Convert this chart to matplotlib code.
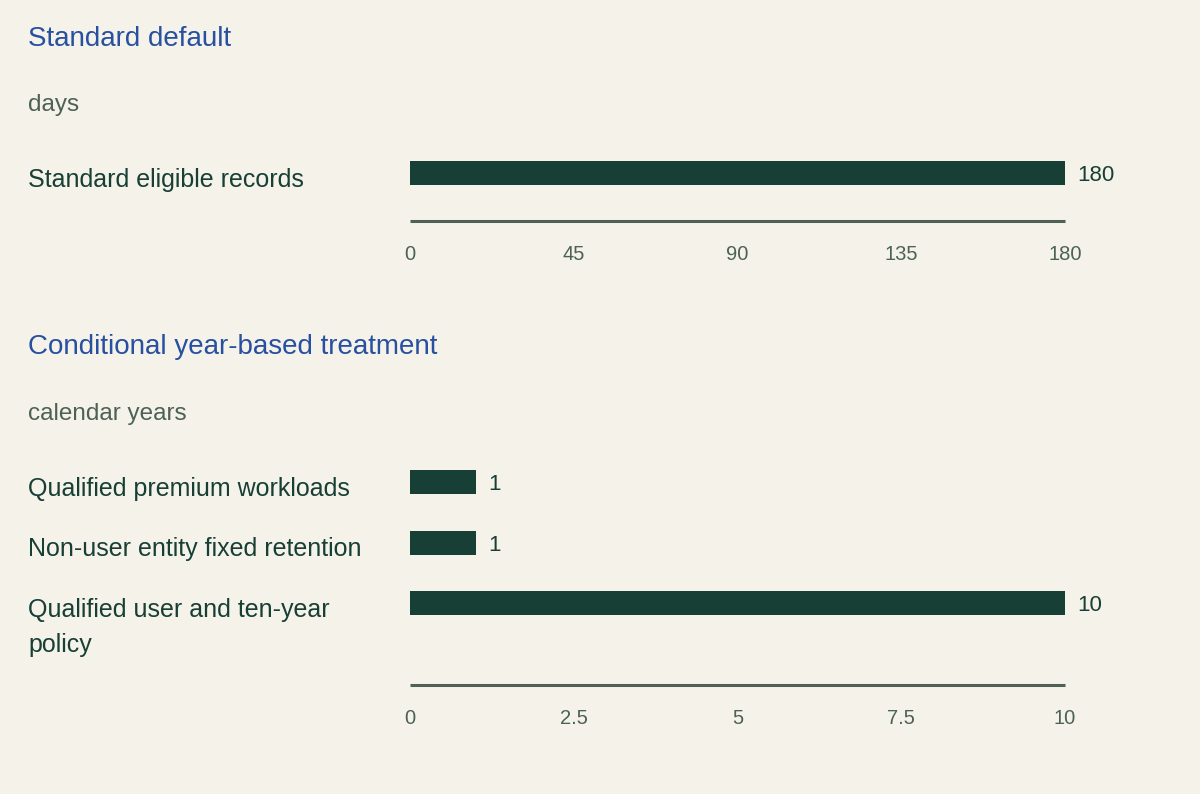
import matplotlib
matplotlib.use("Agg")
import matplotlib.pyplot as plt
from matplotlib.transforms import blended_transform_factory, offset_copy

plt.rcParams['font.family'] = ['Liberation Sans', 'DejaVu Sans']

# Data
p1_title = "Standard default"
p1_unit = "days"
p1_labels = ["Standard eligible records"]
p1_values = [180]
p1_ticks = [0, 45, 90, 135, 180]
p1_ticklabels = ["0", "45", "90", "135", "180"]

p2_title = "Conditional year-based treatment"
p2_unit = "calendar years"
p2_labels = ["Qualified premium workloads", "Non-user entity fixed retention",
             "Qualified user and ten-year\npolicy"]
p2_values = [1, 1, 10]
p2_ticks = [0, 2.5, 5, 7.5, 10]
p2_ticklabels = ["0", "2.5", "5", "7.5", "10"]

BG = "#F5F2EA"
BLUE = "#2850A0"
BAR = "#173F35"
LABEL = "#173F35"
SUB = "#4D6155"
AXIS = "#4D6155"

W, H = 1200, 794
fig = plt.figure(figsize=(W / 100, H / 100), dpi=100, facecolor=BG)

def px_axes(left, top, right, bottom):
    return fig.add_axes([left / W, 1 - bottom / H, (right - left) / W, (bottom - top) / H])

def style(ax, ticks, ticklabels, xmax):
    ax.set_facecolor("none")
    for s in ["top", "right", "left"]:
        ax.spines[s].set_visible(False)
    ax.spines["bottom"].set_color(AXIS)
    ax.spines["bottom"].set_linewidth(2.2)
    ax.spines["bottom"].set_capstyle("butt")
    ax.set_xlim(0, xmax)
    ax.set_xticks(ticks)
    ax.set_xticklabels(ticklabels)
    ax.tick_params(axis="x", length=0, pad=17, labelsize=14.5, labelcolor=SUB)
    ax.set_yticks([])

def panel(ax, labels, values, bar_h, ticks, ticklabels, xmax, title, unit, title_y, unit_y):
    ys = list(range(len(labels)))
    ax.barh(ys, values, height=bar_h, color=BAR)
    style(ax, ticks, ticklabels, xmax)
    base = blended_transform_factory(fig.transFigure, ax.transData)
    for y, lab, v in zip(ys, labels, values):
        for i, line in enumerate(lab.split("\n")):
            tr = offset_copy(base, fig=fig, x=0, y=-13.5 - 35 * i, units="dots")
            ax.text(28 / W, y, line, transform=tr, ha="left", va="baseline",
                    fontsize=18, color=LABEL)
        ax.annotate(f"{v:g}", xy=(v, y), xytext=(9, 0), textcoords="offset points",
                    ha="left", va="center_baseline", fontsize=16, color=LABEL)
    fig.text(28 / W, 1 - title_y / H, title, ha="left", va="center", fontsize=20, color=BLUE)
    fig.text(28 / W, 1 - unit_y / H, unit, ha="left", va="center", fontsize=17.5, color=SUB)

ax1 = px_axes(410, 125, 1065, 221)
ax1.set_ylim(-0.5, 0.5)
panel(ax1, p1_labels, p1_values, 0.25, p1_ticks, p1_ticklabels, 180,
      p1_title, p1_unit, 38.5, 105)

ax2 = px_axes(410, 452, 1065, 685)
ax2.set_ylim(2 + 1.355, -0.5)
panel(ax2, p2_labels, p2_values, 0.4, p2_ticks, p2_ticklabels, 10,
      p2_title, p2_unit, 346.5, 414)

fig.savefig("out.png", dpi=100, facecolor=BG)
